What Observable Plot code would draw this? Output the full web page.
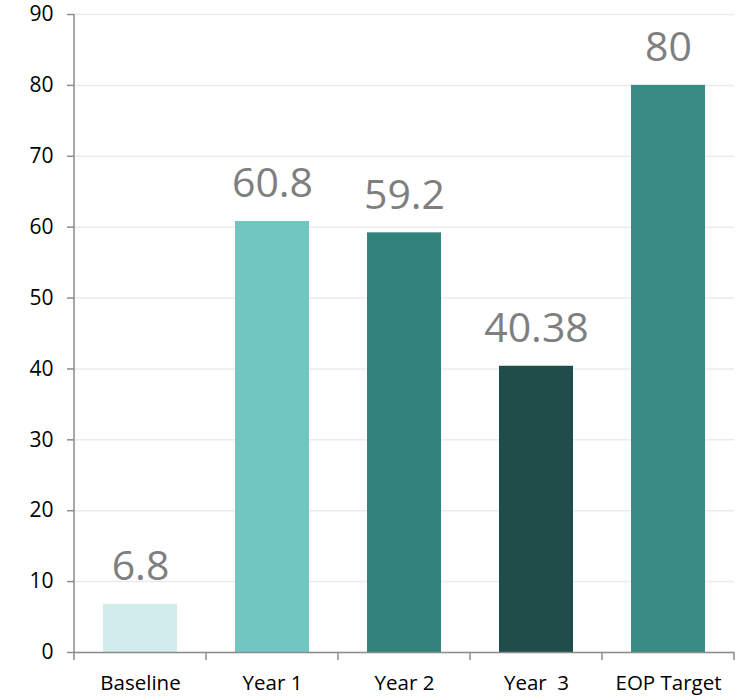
<!DOCTYPE html>
<html>
<head>
<meta charset="utf-8">
<script src="https://cdn.jsdelivr.net/npm/d3@7"></script>
<script src="https://cdn.jsdelivr.net/npm/@observablehq/plot@0.6"></script>
<style>
  html, body { margin: 0; padding: 0; background: #fff; }
  #chart { width: 751px; height: 696px; }
</style>
</head>
<body>
<div id="chart"></div>
<script>
// Values per reporting period
const categories = ["Baseline", "Year 1", "Year 2", "Year  3", "EOP Target"];
const values = [6.8, 60.8, 59.2, 40.38, 80];
const labels = ["6.8", "60.8", "59.2", "40.38", "80"];
const barColors = ["#d1ecea", "#71c6c2", "#34827c", "#1f4d4a", "#3a8a85"];
const yTicks = [0, 10, 20, 30, 40, 50, 60, 70, 80, 90];

const data = categories.map((c, i) => ({category: c, value: values[i], label: labels[i], color: barColors[i]}));

const axisColor = "#8c8c8c";
const font = "'Open Sans', sans-serif";

const plot = Plot.plot({
  width: 751,
  height: 696,
  marginLeft: 74,
  marginRight: 17,
  marginTop: 14,
  marginBottom: 44,
  style: {fontFamily: font, background: "#fff", overflow: "visible"},
  x: {domain: categories, paddingInner: 0.44, paddingOuter: 0.22, label: null},
  y: {domain: [0, 90], label: null},
  marks: [
    Plot.gridY(yTicks, {stroke: "#ebebeb", strokeOpacity: 1, strokeWidth: 1.5}),
    Plot.barY(data, {x: "category", y: "value", fill: "color"}),
    Plot.text(data, {
      x: "category", y: "value", text: "label",
      lineAnchor: "bottom", dy: -24,
      fontSize: 41, fill: "#7f7f7f"
    }),
    Plot.axisY(yTicks, {
      tickSize: 7, tickPadding: 14, fontSize: 21, fill: "#000",
      stroke: axisColor, strokeWidth: 1.5, label: null
    }),
    Plot.ruleY([0], {stroke: axisColor, strokeWidth: 1.5}),
    Plot.axisX({tickSize: 0, tickPadding: 23, fontSize: 20.5, fill: "#000", label: null})
  ]
});

// Vertical axis line and category boundary ticks, placed from the scales
const xs = plot.scale("x");
const ys = plot.scale("y");
const y0 = ys.apply(0);
const y90 = ys.apply(90);
const svg = d3.select(plot.tagName === "svg" ? plot : plot.querySelector("svg"));
const gap = (xs.step - xs.bandwidth) / 2;
const edges = categories.map(c => xs.apply(c) - gap);
edges.push(xs.apply(categories[categories.length - 1]) + xs.bandwidth + gap);
const g = svg.append("g")
  .attr("stroke", axisColor)
  .attr("stroke-width", 1.5);
g.append("line")
  .attr("x1", edges[0]).attr("x2", edges[0])
  .attr("y1", y90).attr("y2", y0);
g.selectAll("line.edge")
  .data(edges)
  .join("line")
  .attr("class", "edge")
  .attr("x1", d => d).attr("x2", d => d)
  .attr("y1", y0).attr("y2", y0 + 8);

document.getElementById("chart").appendChild(plot);
</script>
</body>
</html>
